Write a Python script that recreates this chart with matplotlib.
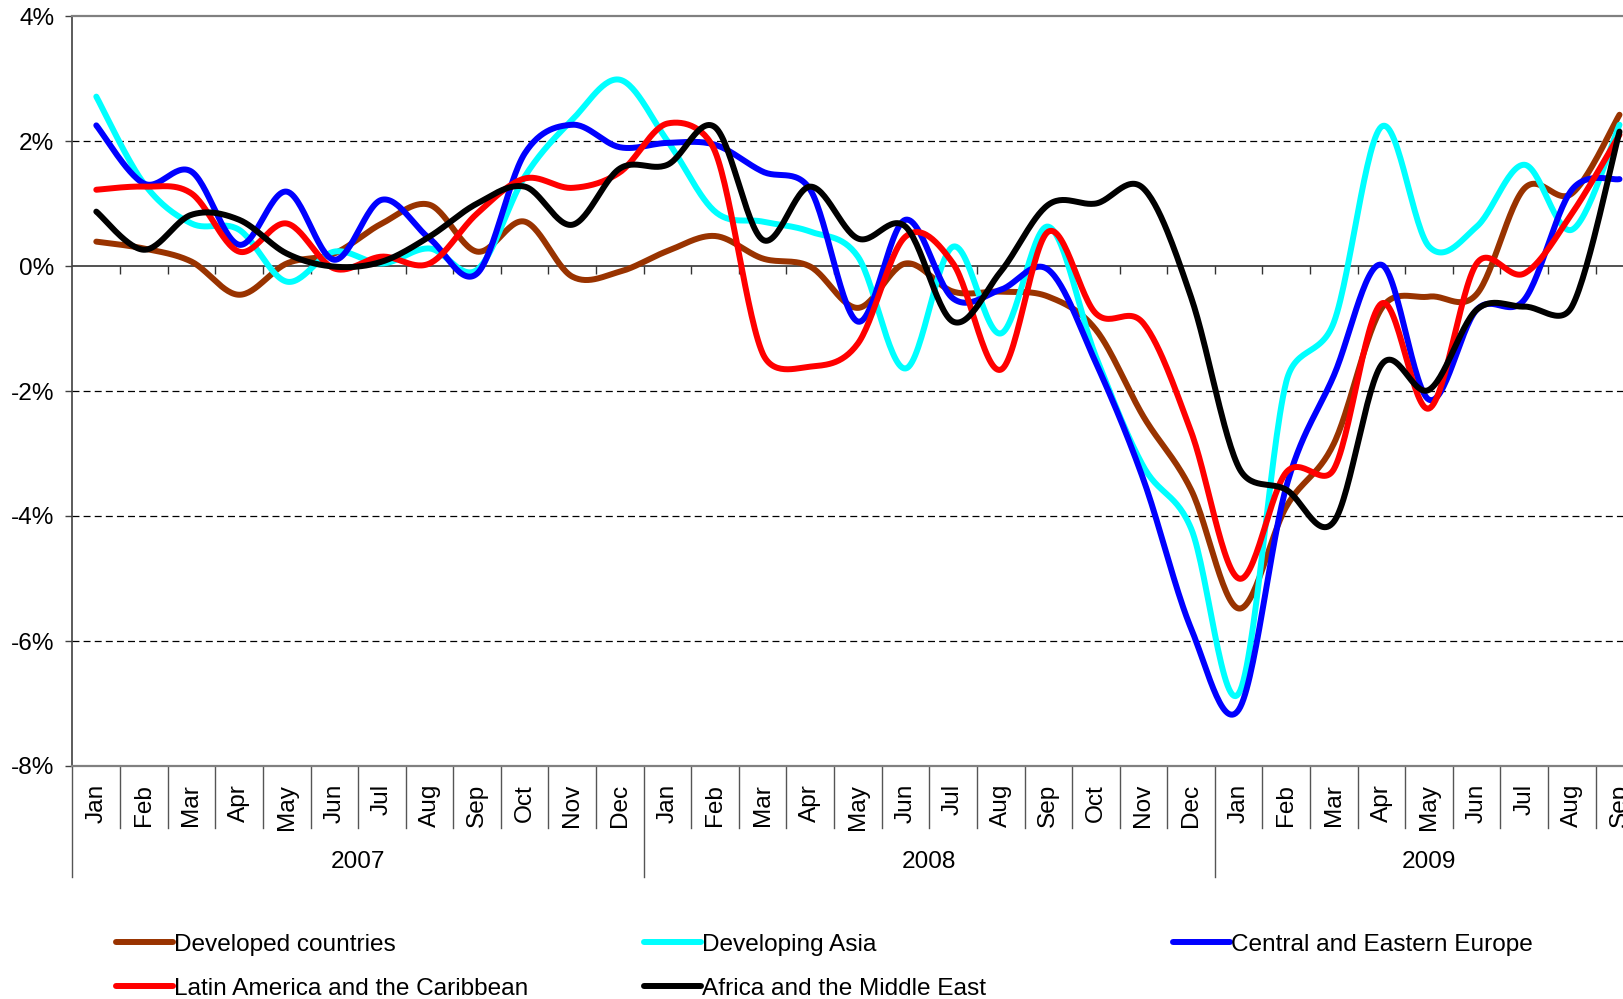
import numpy as np
import matplotlib
matplotlib.use('Agg')
import matplotlib.pyplot as plt
import matplotlib.transforms as mtransforms

plt.rcParams['font.family'] = ['Liberation Sans', 'DejaVu Sans']
plt.rcParams['lines.scale_dashes'] = False

# ---------------- data ----------------
month_names = ['Jan', 'Feb', 'Mar', 'Apr', 'May', 'Jun',
               'Jul', 'Aug', 'Sep', 'Oct', 'Nov', 'Dec']
month_labels = (month_names * 3)[:33]
years = ['2007', '2008', '2009']
year_start = [0, 12, 24]
year_len = [12, 12, 9]

series_names = ['Developed countries', 'Developing Asia', 'Central and Eastern Europe',
                'Latin America and the Caribbean', 'Africa and the Middle East']

developed = [0.39, 0.28, 0.07, -0.46, 0.04, 0.20, 0.68, 0.98, 0.23, 0.71, -0.17, -0.09,
             0.24, 0.48, 0.12, -0.01, -0.67, 0.04, -0.41, -0.41, -0.49, -1.02, -2.41, -3.58,
             -5.48, -3.85, -2.84, -0.68, -0.49, -0.45, 1.24, 1.16, 2.42]
dev_asia = [2.71, 1.32, 0.68, 0.58, -0.25, 0.23, 0.04, 0.28, -0.06, 1.43, 2.34, 2.98,
            2.00, 0.87, 0.71, 0.55, 0.15, -1.64, 0.31, -1.08, 0.63, -1.45, -3.21, -4.20,
            -6.84, -1.85, -0.90, 2.23, 0.31, 0.63, 1.62, 0.58, 2.26]
cee = [2.25, 1.32, 1.51, 0.34, 1.19, 0.10, 1.06, 0.44, -0.12, 1.80, 2.26, 1.90,
       1.97, 1.94, 1.51, 1.22, -0.89, 0.74, -0.52, -0.38, -0.06, -1.55, -3.42, -5.80,
       -7.10, -3.53, -1.75, 0.02, -2.14, -0.70, -0.54, 1.22, 1.39]
latam = [1.22, 1.27, 1.16, 0.23, 0.68, -0.04, 0.15, 0.04, 0.84, 1.40, 1.25, 1.50,
         2.28, 1.83, -1.40, -1.61, -1.24, 0.47, 0.04, -1.66, 0.55, -0.76, -0.92, -2.65,
         -5.00, -3.30, -3.25, -0.60, -2.28, 0.04, -0.12, 0.84, 2.10]
africa_me = [0.87, 0.26, 0.82, 0.74, 0.20, -0.01, 0.07, 0.47, 1.00, 1.27, 0.66, 1.56,
             1.62, 2.22, 0.42, 1.27, 0.44, 0.63, -0.89, -0.09, 0.98, 1.00, 1.24, -0.50,
             -3.22, -3.58, -4.09, -1.58, -1.98, -0.70, -0.65, -0.65, 2.15]

series_values = [developed, dev_asia, cee, latam, africa_me]
series_colors = ['#993300', '#00FFFF', '#0000FF', '#FF0000', '#000000']

y_ticks = [-8, -6, -4, -2, 0, 2, 4]
y_tick_labels = ['-8%', '-6%', '-4%', '-2%', '0%', '2%', '4%']

# ---------------- layout ----------------
W, H = 1624, 999
left_px, top_px, bottom_px = 72.5, 16, 766
cat_w = 47.6
n_cat = 33
px_per_unit_y = (bottom_px - top_px) / 12.0


def smooth_curve(values, n=30):
    """Excel-like smoothed line: Bezier segments with tangents limited by segment length."""
    y = np.asarray(values, dtype=float)
    x = np.arange(len(y), dtype=float)
    P = np.column_stack([x, y])
    S = np.array([cat_w, px_per_unit_y])  # screen scaling for distance tests
    out = []
    m = len(P)
    for i in range(m - 1):
        p0 = P[max(i - 1, 0)]
        p1 = P[i]
        p2 = P[i + 1]
        p3 = P[min(i + 2, m - 1)]
        d12 = np.linalg.norm((p2 - p1) * S)
        d02 = np.linalg.norm((p2 - p0) * S)
        d13 = np.linalg.norm((p3 - p1) * S)
        f1 = 1 / 6 if d02 == 0 else min(1 / 6, 0.5 * d12 / d02)
        f2 = 1 / 6 if d13 == 0 else min(1 / 6, 0.5 * d12 / d13)
        c1 = p1 + f1 * (p2 - p0)
        c2 = p2 - f2 * (p3 - p1)
        t = np.linspace(0, 1, n, endpoint=(i == m - 2))[:, None]
        seg = ((1 - t) ** 3) * p1 + 3 * ((1 - t) ** 2) * t * c1 + 3 * (1 - t) * t ** 2 * c2 + t ** 3 * p2
        out.append(seg)
    out = np.vstack(out)
    return out[:, 0], out[:, 1]


# ---------------- figure ----------------
fig = plt.figure(figsize=(W / 100, H / 100), dpi=100)
ax = fig.add_axes([left_px / W, (H - bottom_px) / H, n_cat * cat_w / W, (bottom_px - top_px) / H])
ax.set_xlim(-0.5, n_cat - 0.5)
ax.set_ylim(-8, 4)

FS = 17.6

# gridlines
for g in [2, -2, -4, -6]:
    ax.axhline(g, color='black', lw=0.9, ls=(0, (5, 3)), zorder=1)
ax.axhline(0, color='#222222', lw=1.1, zorder=1)

# tick marks on the zero line at category boundaries
bounds = np.arange(n_cat + 1) - 0.5
ax.vlines(bounds[1:], -0.13, 0, color='#333333', lw=1.0, zorder=1)

lines = []
for name, vals, col in zip(series_names, series_values, series_colors):
    xs, ys = smooth_curve(vals)
    ln, = ax.plot(xs, ys, color=col, lw=4.3, solid_capstyle='round',
                  solid_joinstyle='round', label=name, zorder=3)
    lines.append(ln)

# spines
for s in ['top', 'bottom']:
    ax.spines[s].set_color('#808080')
    ax.spines[s].set_linewidth(1.6)
ax.spines['left'].set_color('#404040')
ax.spines['left'].set_linewidth(1.2)
ax.spines['right'].set_visible(False)

# y axis
ax.set_yticks(y_ticks)
ax.set_yticklabels(y_tick_labels, fontsize=FS)
ax.tick_params(axis='y', direction='out', length=5, width=1, color='#404040', pad=8)

# x axis (category labels)
ax.set_xticks(np.arange(n_cat))
ax.set_xticklabels(month_labels, rotation=90, fontsize=FS)
ax.tick_params(axis='x', length=0, pad=13)

trans = mtransforms.blended_transform_factory(ax.transData, ax.transAxes)
month_sep = -62 / 750
year_sep = -111 / 750
for i, b in enumerate(bounds[:-1]):
    is_year = i in year_start
    ax.plot([b, b], [0, year_sep if is_year else month_sep], transform=trans,
            color='#555555', lw=1.0, clip_on=False)

for yr, st, ln_ in zip(years, year_start, year_len):
    ax.text(st + (ln_ - 1) / 2, -96 / 750, yr, transform=trans, ha='center', va='center',
            fontsize=FS)

# legend (three columns placed on a grid)
cols = [[0, 3], [1, 4], [2]]
col_x = [116, 644, 1173]
for idxs, cx in zip(cols, col_x):
    fig.legend([lines[i] for i in idxs], [series_names[i] for i in idxs],
               loc='upper left', bbox_to_anchor=(cx / W, (H - 933.5) / H),
               frameon=False, fontsize=FS, handlelength=2.33, handletextpad=0.05,
               borderpad=0, borderaxespad=0, labelspacing=0.91)

fig.savefig('out.png', dpi=100)
